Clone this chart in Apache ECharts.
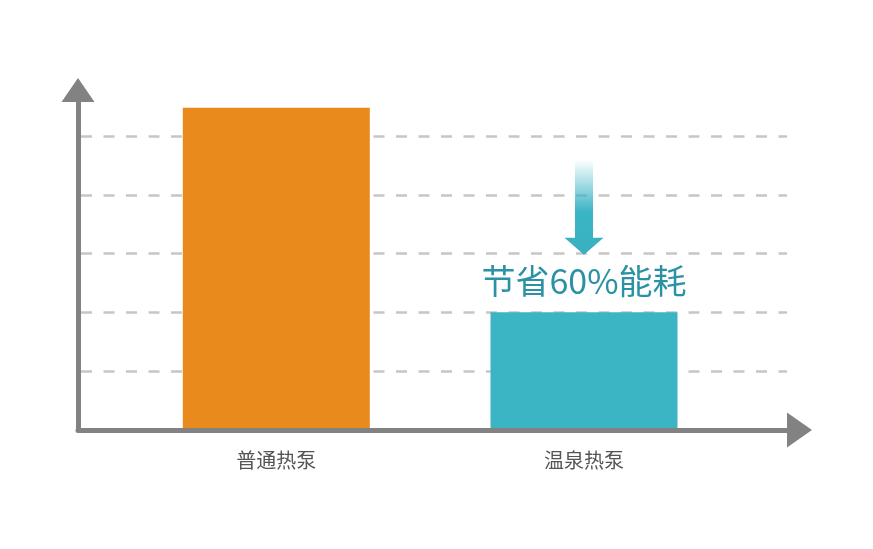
<!DOCTYPE html>
<html>
<head>
<meta charset="utf-8">
<script src="https://cdn.jsdelivr.net/npm/echarts@6/dist/echarts.min.js"></script>
<style>html,body{margin:0;padding:0;background:#fff;}#c{width:873px;height:549px;}</style>
</head>
<body>
<div id="c"></div>
<script>
var categories = ['普通热泵', '温泉热泵'];
var values = [5.48, 2.0];
var barColors = ['#e98a1c', '#3bb4c4'];
var savingText = '节省60%能耗';
var gridTicks = [0, 1, 2, 3, 4, 5];
var axisMax = 5.78;

var chart = echarts.init(document.getElementById('c'), null, {renderer: 'canvas'});
var FONT = '"Noto Sans CJK SC", "Noto Sans", sans-serif';

var option = {
  animation: false,
  backgroundColor: '#ffffff',
  grid: [
    {left: 78, right: 73.5, top: 90, bottom: 119},
    {left: 81, right: 86, top: 136, bottom: 119},
    {left: 122.45, right: 135.15, top: 90, bottom: 119}
  ],
  xAxis: [
    {gridIndex: 0, type: 'value', min: 0, max: 1, z: 5,
      axisLine: {show: true, lineStyle: {color: '#828282', width: 5}, symbol: ['none', 'triangle'], symbolSize: [35, 25]},
      axisTick: {show: false}, axisLabel: {show: false}, splitLine: {show: false}},
    {gridIndex: 1, type: 'value', min: 0, max: 1, show: false},
    {gridIndex: 2, type: 'category', data: categories, z: 4,
      axisLine: {show: false}, axisTick: {show: false},
      axisLabel: {show: true, color: '#555555', fontSize: 20, fontFamily: FONT, margin: 20, lineHeight: 20}}
  ],
  yAxis: [
    {gridIndex: 0, type: 'value', min: 0, max: axisMax, z: 5,
      axisLine: {show: true, lineStyle: {color: '#828282', width: 5}, symbol: ['none', 'triangle'], symbolSize: [33, 24]},
      axisTick: {show: false}, axisLabel: {show: false}, splitLine: {show: false}},
    {gridIndex: 1, type: 'value', min: gridTicks[0], max: gridTicks[gridTicks.length - 1], interval: 1,
      axisLine: {show: false}, axisTick: {show: false}, axisLabel: {show: false},
      splitLine: {show: true, lineStyle: {color: '#c6c6c6', width: 2.5, type: [11, 11.5]}}},
    {gridIndex: 2, type: 'value', min: 0, max: axisMax, show: false}
  ],
  series: [{
    type: 'bar',
    xAxisIndex: 2,
    yAxisIndex: 2,
    barWidth: 187,
    z: 2,
    data: values.map(function (v, i) {
      var d = {value: v, itemStyle: {color: barColors[i]}};
      if (i === 1) {
        d.label = {show: true, position: 'top', distance: 13, formatter: savingText,
          color: '#2b92a5', fontSize: 34, lineHeight: 36, fontFamily: FONT};
      }
      return d;
    }),
    markPoint: {
      silent: true,
      data: [{
        coord: [categories[1], values[1]],
        symbol: 'path://M10.5,0 L28.5,0 L28.5,78 L39,78 L19.5,95 L0,78 L10.5,78 Z',
        symbolSize: [39, 95],
        symbolOffset: [0, -105],
        label: {show: false},
        itemStyle: {
          color: new echarts.graphic.LinearGradient(0, 0, 0, 1, [
            {offset: 0, color: 'rgba(59,180,196,0)'},
            {offset: 0.55, color: 'rgba(59,180,196,1)'},
            {offset: 1, color: 'rgba(56,176,192,1)'}
          ])
        }
      }]
    }
  }]
};
chart.setOption(option);
</script>
</body>
</html>
